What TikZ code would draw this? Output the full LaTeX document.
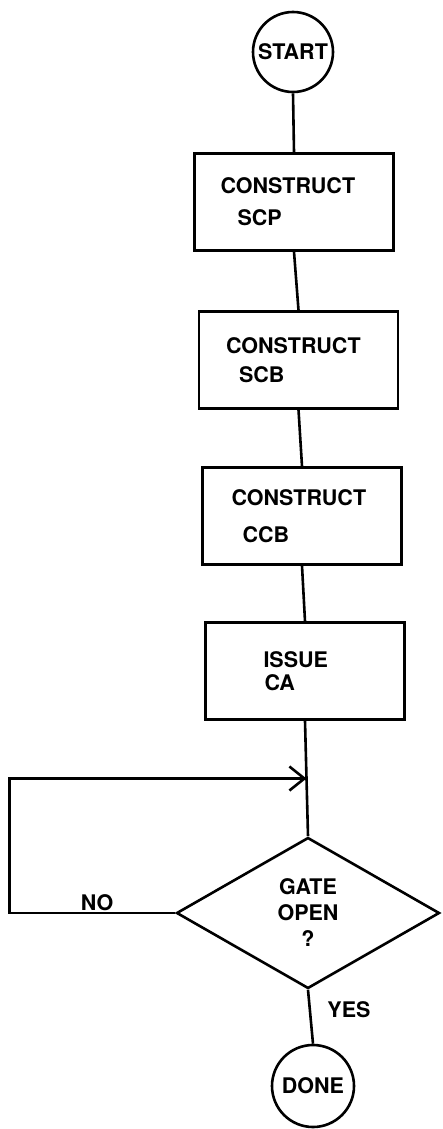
\documentclass[tikz,border=0pt]{standalone}
\usepackage{fontspec}
\setmainfont{TeX Gyre Heros}
\usetikzlibrary{shapes.geometric,arrows.meta,calc}
\begin{document}
\begin{tikzpicture}[x=1pt,y=-1pt,
  every node/.style={font=\fontsize{21.5}{26}\selectfont\bfseries},
  ln/.style={line width=2.6pt},
  term/.style={ln, draw, circle, minimum size=80pt, inner sep=0pt},
  proc/.style={ln, draw, rectangle, minimum width=199pt, minimum height=97pt, text width=173pt, inner xsep=13pt, inner ysep=0pt, align=left},
  dec/.style={ln, draw, diamond, minimum width=263pt, minimum height=151pt, inner sep=0pt, aspect=1.74, align=center},
  lbl/.style={inner sep=0pt},
  barb/.style={-{Straight Barb[length=15pt,width=24pt]}}
]
\useasboundingbox (0,0) rectangle (442,1129);
\node[term] (start) at (293,52) {START};
\node[proc] (b1) at (294,202) {\hspace*{13pt}CONSTRUCT\\[6pt]\hspace*{30pt}SCP};
\node[proc] (b2) at (298.5,360) {\hspace*{14pt}CONSTRUCT\\[3pt]\hspace*{27pt}SCB};
\node[proc] (b3) at (302,516) {\hspace*{16pt}CONSTRUCT\\[11pt]\hspace*{27pt}CCB};
\node[proc] (b4) at (305,671) {\hspace*{45pt}ISSUE\\[-3pt]\hspace*{46pt}CA};
\node[dec] (gate) at (308,913) {GATE\\OPEN\\?};
\node[term, minimum size=82pt] (done) at (313,1086) {DONE};
\node[lbl] (no) at (97,903) {NO};
\node[lbl] (yes) at (349,1010) {YES};
\coordinate (j) at ($(b4.south)!0.5!(gate.north)$);
\draw[ln] (start.south) -- (b1.north);
\draw[ln] (b1.south) -- (b2.north);
\draw[ln] (b2.south) -- (b3.north);
\draw[ln] (b3.south) -- (b4.north);
\draw[ln] (b4.south) -- (gate.north);
\draw[ln, barb] (gate.west) -- ++(-166,0) |- (j);
\draw[ln] (gate.south) -- (done.north);
\end{tikzpicture}
\end{document}
